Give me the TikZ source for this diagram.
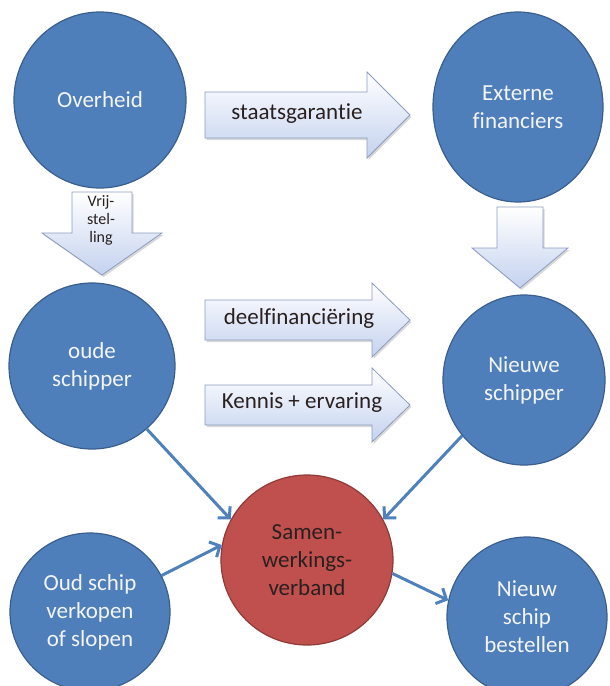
\documentclass[tikz,border=0pt]{standalone}
\usepackage{fontspec}
\setmainfont{Carlito}[Ligatures=NoCommon]
\usetikzlibrary{shapes.geometric,arrows.meta,shadows}
\definecolor{cblue}{HTML}{4F7FBA}
\definecolor{cblueb}{HTML}{3A5F8E}
\definecolor{cred}{HTML}{C0504D}
\definecolor{credb}{HTML}{8E3B39}
\definecolor{afill}{HTML}{C4D2EF}
\definecolor{aedge}{HTML}{8C9CC0}
\definecolor{lblue}{HTML}{4F81BD}
\definecolor{ctext}{HTML}{F2F4F8}
\definecolor{dtext}{HTML}{2A2020}
\begin{document}
\begin{tikzpicture}[x=1pt,y=-1pt,
  bubble/.style={ellipse, fill=cblue, draw=cblueb, line width=1.2pt, text=ctext,
    align=center, inner sep=0pt, font=\fontsize{23}{28}\selectfont},
  redbubble/.style={bubble, fill=cred, draw=credb, text=dtext},
  blockarrow/.style={draw=aedge, line width=0.8pt, top color=white, bottom color=afill,
    line join=miter, drop shadow={shadow xshift=1.5pt, shadow yshift=-2pt, opacity=0.3}},
  alabel/.style={font=\fontsize{23}{28}\selectfont, text=dtext, inner sep=0pt},
  slabel/.style={font=\fontsize{16}{18}\selectfont, text=dtext, align=center, inner sep=0pt},
  conn/.style={draw=lblue, line width=3pt, -{Straight Barb[length=8pt,width=17pt]}}]
\useasboundingbox (0,0) rectangle (610,686);
\fill[white] (0,0) rectangle (610,686);

% circles
\node[bubble, minimum width=172pt, minimum height=176pt] (overheid) at (100,100) {Overheid};
\node[bubble, minimum width=170pt, minimum height=190pt] (extern) at (518,107) {Externe\\financiers};
\node[bubble, minimum width=166pt, minimum height=166pt] (oude) at (92,366) {oude\\schipper};
\node[bubble, minimum width=162pt, minimum height=170pt] (nieuwe) at (524,380) {Nieuwe\\schipper};
\node[redbubble, minimum width=172pt, minimum height=170pt] (samen) at (307,560) {Samen-\\werkings-\\verband};
\node[bubble, minimum width=160pt, minimum height=158pt] (oud) at (90,612) {Oud schip\\verkopen\\of slopen};
\node[bubble, minimum width=160pt, minimum height=160pt] (nieuw) at (527,617) {Nieuw\\schip\\bestellen};

% block arrows
\path[blockarrow] (205,92) -- (367,92) -- (367,72) -- (410,115) -- (367,158) -- (367,138) -- (205,138) -- cycle;
\node[alabel] (staats) at (297,114) {staatsgaran\kern0pt tie};

\path[blockarrow] (205,300) -- (372,300) -- (372,283) -- (410,320) -- (372,357) -- (372,340) -- (205,340) -- cycle;
\node[alabel] (deel) at (299,318) {deelfinanciëring};

\path[blockarrow] (205,385) -- (372,385) -- (372,368) -- (410,405) -- (372,442) -- (372,425) -- (205,425) -- cycle;
\node[alabel] (kennis) at (302,403) {Kennis + ervaring};

\path[blockarrow] (72,192) -- (132,192) -- (132,233) -- (162,233) -- (102,275) -- (42,233) -- (72,233) -- cycle;
\node[slabel] (vrij) at (101,220) {Vrij-\\stel-\\ling};

\path[blockarrow] (497,207) -- (543,207) -- (543,248) -- (568,248) -- (520,288) -- (472,248) -- (497,248) -- cycle;

% connectors
\draw[conn] (oude.-49) -- (samen.152);
\draw[conn] (oud.27) -- (samen.170);
\draw[conn] (nieuwe.222) -- (samen.28);
\draw[conn] (samen.-9) -- (nieuw.168);
\end{tikzpicture}
\end{document}
